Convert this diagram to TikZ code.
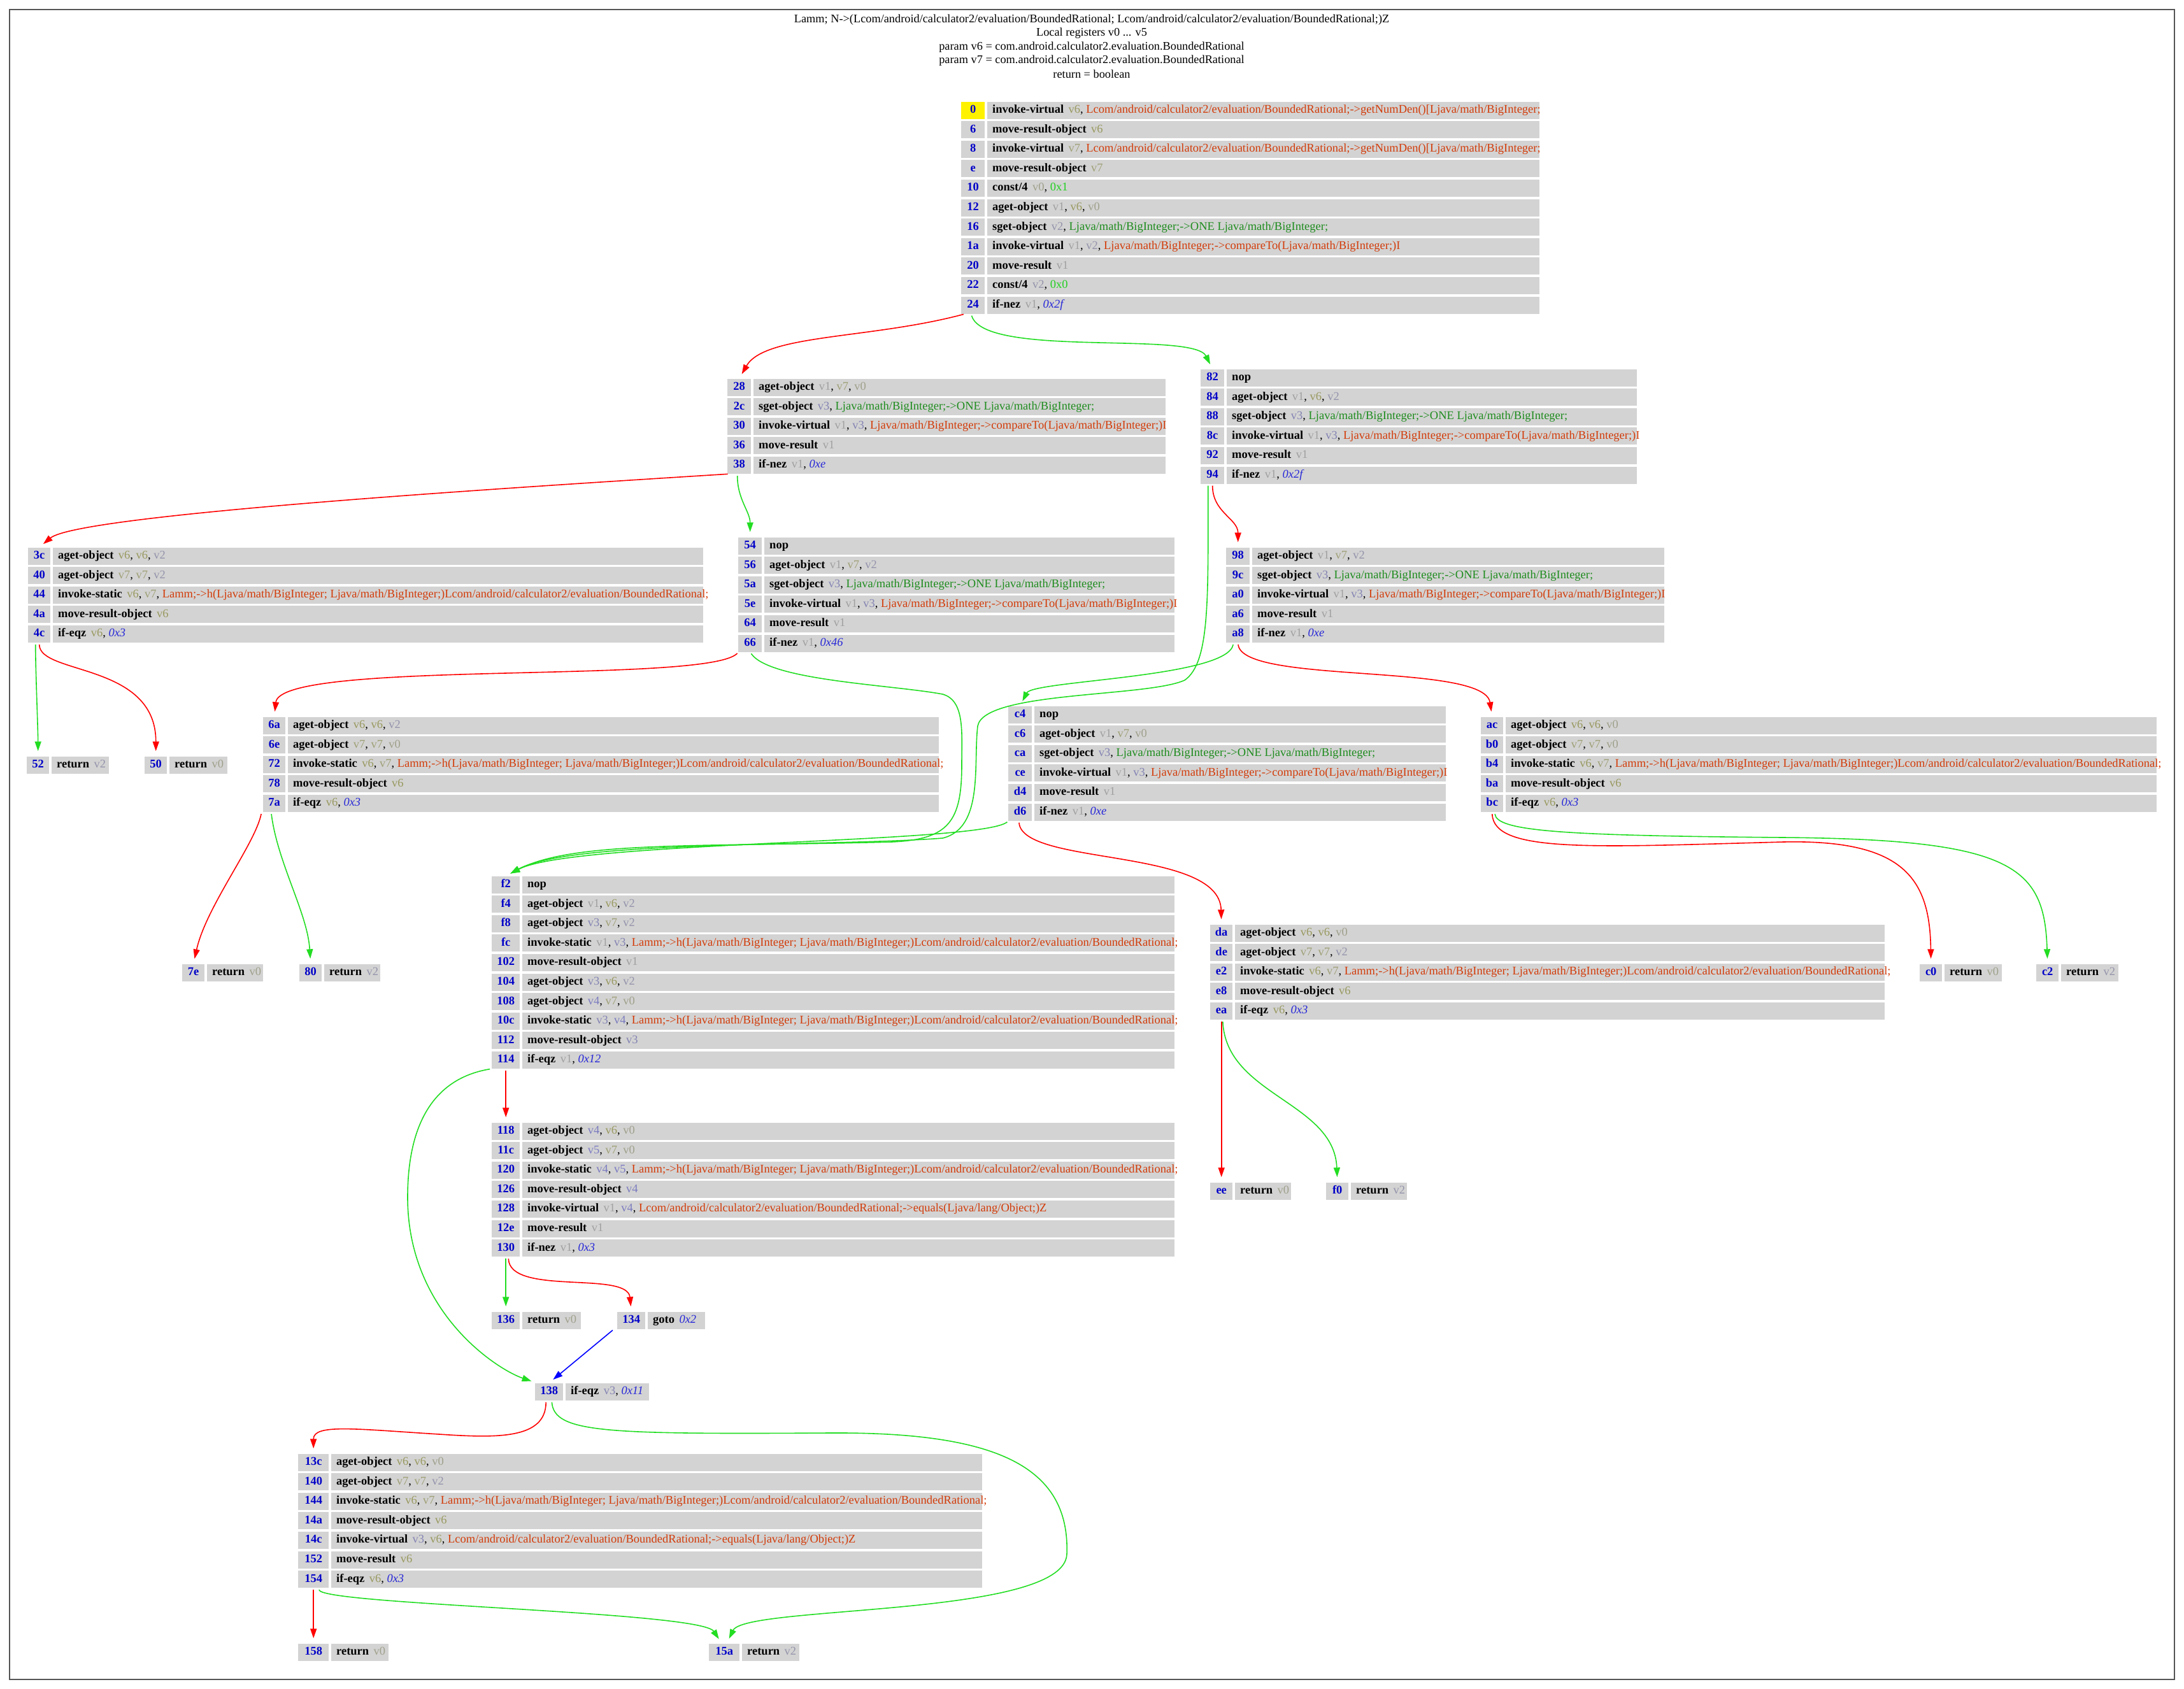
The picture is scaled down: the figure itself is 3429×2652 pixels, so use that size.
\documentclass[tikz,border=0pt]{standalone}
\usepackage{fontspec}
\setmainfont{Liberation Serif}
\usetikzlibrary{arrows.meta}
\definecolor{cellgray}{HTML}{D3D3D3}
\definecolor{addrblue}{HTML}{0000C8}
\definecolor{meth}{HTML}{D23C0A}
\definecolor{fld}{HTML}{1E8C1E}
\definecolor{cst}{HTML}{22D022}
\definecolor{tgt}{HTML}{2828D8}
\definecolor{rv0}{HTML}{A0A08C}
\definecolor{rv1}{HTML}{A0A0A0}
\definecolor{rv2}{HTML}{9494AC}
\definecolor{rv3}{HTML}{8484B4}
\definecolor{rv4}{HTML}{7C7CC0}
\definecolor{rv5}{HTML}{7C7CC4}
\definecolor{rv6}{HTML}{999960}
\definecolor{rv7}{HTML}{A0A078}
\definecolor{egreen}{HTML}{22DD22}
\definecolor{framegray}{HTML}{555555}
\newcommand\fs{\fontsize{18.5}{22}\selectfont}
\newcommand\Op[1]{\textbf{#1}\hspace{0.4em}}
\newcommand\Rg[1]{\textcolor{rv#1}{v#1}}
\newcommand\Me[1]{\textcolor{meth}{#1}}
\newcommand\Fi[1]{\textcolor{fld}{#1}}
\newcommand\Ko[1]{\textcolor{cst}{#1}}
\newcommand\Tg[1]{\textcolor{tgt}{\textit{#1}}}
\newcommand\tLH{Lamm;->h(Ljava/math/BigInteger; Ljava/math/BigInteger;)Lcom/android/calculator2/evaluation/BoundedRational;}
\newcommand\tCT{Ljava/math/BigInteger;->compareTo(Ljava/math/BigInteger;)I}
\newcommand\tONE{Ljava/math/BigInteger;->ONE Ljava/math/BigInteger;}
\newcommand\tEQ{Lcom/android/calculator2/evaluation/BoundedRational;->equals(Ljava/lang/Object;)Z}
\newcommand\tGN{Lcom/android/calculator2/evaluation/BoundedRational;->getNumDen()[Ljava/math/BigInteger;}
\newcommand\acol{cellgray}
\newcommand\rw[8]{%
  \pgfmathsetmacro\ry{#3+#4*30.6}%
  \pgfmathsetmacro\ix{#2+#5+4}%
  \pgfmathsetmacro\iw{#6-#5-4}%
  \pgfmathsetmacro\tw{#6-#5-4-16}%
  \node[addr, fill=\acol, minimum width=#5pt] (n#1) at (#2,\ry) {\strut#7};%
  \node[instr, minimum width=\iw pt] (i#1) at (\ix,\ry) {\makebox[\tw pt][l]{\strut#8}};%
}
\tikzset{
  addr/.style={anchor=west, inner sep=0pt, minimum height=27pt, text=addrblue, font=\fs\bfseries},
  instr/.style={anchor=west, fill=cellgray, inner xsep=8pt, inner ysep=0pt, minimum height=27pt, font=\fs},
  titletext/.style={font=\fontsize{18.3}{22}\selectfont, inner sep=0pt},
  edge/.style={line width=1.6pt, -{Triangle[length=15pt,width=10pt]}, shorten >=8pt, shorten <=3pt},
  ered/.style={edge, red},
  egr/.style={edge, egreen},
  ebl/.style={edge, blue}
}
\begin{document}
\begin{tikzpicture}[x=1pt,y=-1pt]
\useasboundingbox (0,0) rectangle (3429,2652);
\draw[framegray, line width=2.5pt] (15,15) rectangle (3414,2637);
% title
\node[titletext] (t1) at (1714,31) {Lamm; N->(Lcom/android/calculator2/evaluation/BoundedRational; Lcom/android/calculator2/evaluation/BoundedRational;)Z};
\node[titletext] (t2) at (1714,52) {Local registers v0 ... v5};
\node[titletext] (t3) at (1714,74) {param v6 = com.android.calculator2.evaluation.BoundedRational};
\node[titletext] (t4) at (1714,95) {param v7 = com.android.calculator2.evaluation.BoundedRational};
\node[titletext] (t5) at (1714,116) {return = boolean};
% block A
\renewcommand\acol{yellow}
\rw{0}{1509}{173}{0}{37}{908}{0}{\Op{invoke-virtual}\Rg6, \Me{\tGN}}
\renewcommand\acol{cellgray}
\rw{6}{1509}{173}{1}{37}{908}{6}{\Op{move-result-object}\Rg6}
\rw{8}{1509}{173}{2}{37}{908}{8}{\Op{invoke-virtual}\Rg7, \Me{\tGN}}
\rw{e}{1509}{173}{3}{37}{908}{e}{\Op{move-result-object}\Rg7}
\rw{10}{1509}{173}{4}{37}{908}{10}{\Op{const/4}\Rg0, \Ko{0x1}}
\rw{12}{1509}{173}{5}{37}{908}{12}{\Op{aget-object}\Rg1, \Rg6, \Rg0}
\rw{16}{1509}{173}{6}{37}{908}{16}{\Op{sget-object}\Rg2, \Fi{\tONE}}
\rw{1a}{1509}{173}{7}{37}{908}{1a}{\Op{invoke-virtual}\Rg1, \Rg2, \Me{\tCT}}
\rw{20}{1509}{173}{8}{37}{908}{20}{\Op{move-result}\Rg1}
\rw{22}{1509}{173}{9}{37}{908}{22}{\Op{const/4}\Rg2, \Ko{0x0}}
\rw{24}{1509}{173}{10}{37}{908}{24}{\Op{if-nez}\Rg1, \Tg{0x2f}}
% block B
\rw{28}{1142}{608}{0}{37}{688}{28}{\Op{aget-object}\Rg1, \Rg7, \Rg0}
\rw{2c}{1142}{608}{1}{37}{688}{2c}{\Op{sget-object}\Rg3, \Fi{\tONE}}
\rw{30}{1142}{608}{2}{37}{688}{30}{\Op{invoke-virtual}\Rg1, \Rg3, \Me{\tCT}}
\rw{36}{1142}{608}{3}{37}{688}{36}{\Op{move-result}\Rg1}
\rw{38}{1142}{608}{4}{37}{688}{38}{\Op{if-nez}\Rg1, \Tg{0xe}}
% block C
\rw{82}{1885}{593}{0}{37}{685}{82}{\Op{nop}}
\rw{84}{1885}{593}{1}{37}{685}{84}{\Op{aget-object}\Rg1, \Rg6, \Rg2}
\rw{88}{1885}{593}{2}{37}{685}{88}{\Op{sget-object}\Rg3, \Fi{\tONE}}
\rw{8c}{1885}{593}{3}{37}{685}{8c}{\Op{invoke-virtual}\Rg1, \Rg3, \Me{\tCT}}
\rw{92}{1885}{593}{4}{37}{685}{92}{\Op{move-result}\Rg1}
\rw{94}{1885}{593}{5}{37}{685}{94}{\Op{if-nez}\Rg1, \Tg{0x2f}}
% block D
\rw{3c}{44}{873}{0}{35}{1060}{3c}{\Op{aget-object}\Rg6, \Rg6, \Rg2}
\rw{40}{44}{873}{1}{35}{1060}{40}{\Op{aget-object}\Rg7, \Rg7, \Rg2}
\rw{44}{44}{873}{2}{35}{1060}{44}{\Op{invoke-static}\Rg6, \Rg7, \Me{\tLH}}
\rw{4a}{44}{873}{3}{35}{1060}{4a}{\Op{move-result-object}\Rg6}
\rw{4c}{44}{873}{4}{35}{1060}{4c}{\Op{if-eqz}\Rg6, \Tg{0x3}}
% block E
\rw{54}{1159}{857}{0}{37}{685}{54}{\Op{nop}}
\rw{56}{1159}{857}{1}{37}{685}{56}{\Op{aget-object}\Rg1, \Rg7, \Rg2}
\rw{5a}{1159}{857}{2}{37}{685}{5a}{\Op{sget-object}\Rg3, \Fi{\tONE}}
\rw{5e}{1159}{857}{3}{37}{685}{5e}{\Op{invoke-virtual}\Rg1, \Rg3, \Me{\tCT}}
\rw{64}{1159}{857}{4}{37}{685}{64}{\Op{move-result}\Rg1}
\rw{66}{1159}{857}{5}{37}{685}{66}{\Op{if-nez}\Rg1, \Tg{0x46}}
% block F
\rw{98}{1925}{873}{0}{37}{688}{98}{\Op{aget-object}\Rg1, \Rg7, \Rg2}
\rw{9c}{1925}{873}{1}{37}{688}{9c}{\Op{sget-object}\Rg3, \Fi{\tONE}}
\rw{a0}{1925}{873}{2}{37}{688}{a0}{\Op{invoke-virtual}\Rg1, \Rg3, \Me{\tCT}}
\rw{a6}{1925}{873}{3}{37}{688}{a6}{\Op{move-result}\Rg1}
\rw{a8}{1925}{873}{4}{37}{688}{a8}{\Op{if-nez}\Rg1, \Tg{0xe}}
% block G
\rw{6a}{413}{1139}{0}{35}{1061}{6a}{\Op{aget-object}\Rg6, \Rg6, \Rg2}
\rw{6e}{413}{1139}{1}{35}{1061}{6e}{\Op{aget-object}\Rg7, \Rg7, \Rg0}
\rw{72}{413}{1139}{2}{35}{1061}{72}{\Op{invoke-static}\Rg6, \Rg7, \Me{\tLH}}
\rw{78}{413}{1139}{3}{35}{1061}{78}{\Op{move-result-object}\Rg6}
\rw{7a}{413}{1139}{4}{35}{1061}{7a}{\Op{if-eqz}\Rg6, \Tg{0x3}}
% block H
\rw{c4}{1583}{1122}{0}{37}{687}{c4}{\Op{nop}}
\rw{c6}{1583}{1122}{1}{37}{687}{c6}{\Op{aget-object}\Rg1, \Rg7, \Rg0}
\rw{ca}{1583}{1122}{2}{37}{687}{ca}{\Op{sget-object}\Rg3, \Fi{\tONE}}
\rw{ce}{1583}{1122}{3}{37}{687}{ce}{\Op{invoke-virtual}\Rg1, \Rg3, \Me{\tCT}}
\rw{d4}{1583}{1122}{4}{37}{687}{d4}{\Op{move-result}\Rg1}
\rw{d6}{1583}{1122}{5}{37}{687}{d6}{\Op{if-nez}\Rg1, \Tg{0xe}}
% block I
\rw{ac}{2325}{1139}{0}{35}{1061}{ac}{\Op{aget-object}\Rg6, \Rg6, \Rg0}
\rw{b0}{2325}{1139}{1}{35}{1061}{b0}{\Op{aget-object}\Rg7, \Rg7, \Rg0}
\rw{b4}{2325}{1139}{2}{35}{1061}{b4}{\Op{invoke-static}\Rg6, \Rg7, \Me{\tLH}}
\rw{ba}{2325}{1139}{3}{35}{1061}{ba}{\Op{move-result-object}\Rg6}
\rw{bc}{2325}{1139}{4}{35}{1061}{bc}{\Op{if-eqz}\Rg6, \Tg{0x3}}
% block J
\rw{f2}{772}{1389}{0}{44}{1072}{f2}{\Op{nop}}
\rw{f4}{772}{1389}{1}{44}{1072}{f4}{\Op{aget-object}\Rg1, \Rg6, \Rg2}
\rw{f8}{772}{1389}{2}{44}{1072}{f8}{\Op{aget-object}\Rg3, \Rg7, \Rg2}
\rw{fc}{772}{1389}{3}{44}{1072}{fc}{\Op{invoke-static}\Rg1, \Rg3, \Me{\tLH}}
\rw{102}{772}{1389}{4}{44}{1072}{102}{\Op{move-result-object}\Rg1}
\rw{104}{772}{1389}{5}{44}{1072}{104}{\Op{aget-object}\Rg3, \Rg6, \Rg2}
\rw{108}{772}{1389}{6}{44}{1072}{108}{\Op{aget-object}\Rg4, \Rg7, \Rg0}
\rw{10c}{772}{1389}{7}{44}{1072}{10c}{\Op{invoke-static}\Rg3, \Rg4, \Me{\tLH}}
\rw{112}{772}{1389}{8}{44}{1072}{112}{\Op{move-result-object}\Rg3}
\rw{114}{772}{1389}{9}{44}{1072}{114}{\Op{if-eqz}\Rg1, \Tg{0x12}}
% block K
\rw{da}{1900}{1465}{0}{35}{1059}{da}{\Op{aget-object}\Rg6, \Rg6, \Rg0}
\rw{de}{1900}{1465}{1}{35}{1059}{de}{\Op{aget-object}\Rg7, \Rg7, \Rg2}
\rw{e2}{1900}{1465}{2}{35}{1059}{e2}{\Op{invoke-static}\Rg6, \Rg7, \Me{\tLH}}
\rw{e8}{1900}{1465}{3}{35}{1059}{e8}{\Op{move-result-object}\Rg6}
\rw{ea}{1900}{1465}{4}{35}{1059}{ea}{\Op{if-eqz}\Rg6, \Tg{0x3}}
% block L
\rw{118}{772}{1776}{0}{44}{1072}{118}{\Op{aget-object}\Rg4, \Rg6, \Rg0}
\rw{11c}{772}{1776}{1}{44}{1072}{11c}{\Op{aget-object}\Rg5, \Rg7, \Rg0}
\rw{120}{772}{1776}{2}{44}{1072}{120}{\Op{invoke-static}\Rg4, \Rg5, \Me{\tLH}}
\rw{126}{772}{1776}{3}{44}{1072}{126}{\Op{move-result-object}\Rg4}
\rw{128}{772}{1776}{4}{44}{1072}{128}{\Op{invoke-virtual}\Rg1, \Rg4, \Me{\tEQ}}
\rw{12e}{772}{1776}{5}{44}{1072}{12e}{\Op{move-result}\Rg1}
\rw{130}{772}{1776}{6}{44}{1072}{130}{\Op{if-nez}\Rg1, \Tg{0x3}}
% block M
\rw{13c}{468}{2296}{0}{48}{1074}{13c}{\Op{aget-object}\Rg6, \Rg6, \Rg0}
\rw{140}{468}{2296}{1}{48}{1074}{140}{\Op{aget-object}\Rg7, \Rg7, \Rg2}
\rw{144}{468}{2296}{2}{48}{1074}{144}{\Op{invoke-static}\Rg6, \Rg7, \Me{\tLH}}
\rw{14a}{468}{2296}{3}{48}{1074}{14a}{\Op{move-result-object}\Rg6}
\rw{14c}{468}{2296}{4}{48}{1074}{14c}{\Op{invoke-virtual}\Rg3, \Rg6, \Me{\tEQ}}
\rw{152}{468}{2296}{5}{48}{1074}{152}{\Op{move-result}\Rg6}
\rw{154}{468}{2296}{6}{48}{1074}{154}{\Op{if-eqz}\Rg6, \Tg{0x3}}
% small nodes
\rw{52}{42}{1201}{0}{35}{129}{52}{\Op{return}\Rg2}
\rw{50}{227}{1201}{0}{35}{130}{50}{\Op{return}\Rg0}
\rw{7e}{286}{1527}{0}{35}{127}{7e}{\Op{return}\Rg0}
\rw{80}{470}{1527}{0}{35}{127}{80}{\Op{return}\Rg2}
\rw{c0}{3014}{1527}{0}{35}{129}{c0}{\Op{return}\Rg0}
\rw{c2}{3197}{1527}{0}{35}{129}{c2}{\Op{return}\Rg2}
\rw{ee}{1900}{1870}{0}{35}{127}{ee}{\Op{return}\Rg0}
\rw{f0}{2082}{1870}{0}{35}{127}{f0}{\Op{return}\Rg2}
\rw{136}{772}{2073}{0}{44}{140}{136}{\Op{return}\Rg0}
\rw{134}{969}{2073}{0}{44}{138}{134}{\Op{goto}\Tg{0x2}}
\rw{138}{840}{2185}{0}{44}{179}{138}{\Op{if-eqz}\Rg3, \Tg{0x11}}
\rw{158}{468}{2594}{0}{48}{142}{158}{\Op{return}\Rg0}
\rw{15a}{1113}{2594}{0}{48}{142}{15a}{\Op{return}\Rg2}
% edges
\draw[ered] ([xshift=-12pt]n24.south) .. controls +(-150,40) and +(40,-70) .. (n28.north);
\draw[egr] ([xshift=-3pt]n24.south) .. controls +(20,70) and +(-30,-60) .. (n82.north);
\draw[ered] ([xshift=-15pt]n38.south) .. controls +(-400,25) and +(60,-50) .. (n3c.north);
\draw[egr] ([xshift=-3pt]n38.south) .. controls +(0,40) and +(0,-40) .. (n54.north);
\draw[ered] (n94.south) .. controls +(0,45) and +(0,-45) .. (n98.north);
\draw[egr] ([xshift=-7pt]n94.south) .. controls +(0,180) and (1900,1040) .. (1860,1068) .. controls (1800,1095) and (1545,1085) .. (1535,1140) .. controls (1528,1200) and (1545,1300) .. (1480,1316) .. controls (1300,1330) and (900,1318) .. (nf2.north);
\draw[ered] ([xshift=-18pt]n66.south) .. controls (1110,1075) and (440,1035) .. (n6a.north);
\draw[egr] (n66.south) .. controls +(30,45) and (1400,1075) .. (1480,1090) .. controls (1515,1100) and (1510,1150) .. (1510,1200) .. controls (1510,1290) and (1490,1318) .. (1400,1322) .. controls (1100,1330) and (900,1320) .. (nf2.north);
\draw[egr] ([xshift=-7pt]na8.south) .. controls +(-10,55) and +(20,-40) .. (nc4.north);
\draw[ered] (na8.south) .. controls (1950,1075) and (2330,1040) .. (nac.north);
\draw[egr] ([xshift=-6pt]n4c.south) .. controls +(0,40) and +(0,-40) .. (n52.north);
\draw[ered] (n4c.south) .. controls (62,1060) and (245,1040) .. (n50.north);
\draw[ered] ([xshift=-20pt]n7a.south) .. controls +(-10,50) and +(20,-90) .. (n7e.north);
\draw[egr] ([xshift=-5pt]n7a.south) .. controls +(10,80) and +(-5,-80) .. (n80.north);
\draw[egr] ([xshift=-18pt]nd6.south) .. controls (1540,1325) and (900,1320) .. (nf2.north);
\draw[ered] ([xshift=-2pt]nd6.south) .. controls (1605,1360) and (1915,1330) .. (nda.north);
\draw[ered] (nbc.south) .. controls (2345,1340) and (2500,1330) .. (2800,1322) .. controls (2990,1318) and (3030,1380) .. (nc0.north);
\draw[egr] ([xshift=4pt]nbc.south) .. controls (2350,1305) and (2450,1312) .. (2800,1315) .. controls (3160,1318) and (3210,1360) .. (nc2.north);
\draw[ered] (n114.south) -- (n118.north);
\draw[egr] ([xshift=-22pt]n114.south) .. controls (700,1690) and (640,1740) .. (640,1880) .. controls (640,2060) and (780,2150) .. ([xshift=-20pt]n138.north);
\draw[ered] (nea.south) -- (nee.north);
\draw[egr] ([xshift=2pt]nea.south) .. controls (1925,1720) and (2095,1730) .. (nf0.north);
\draw[egr] (n130.south) -- (n136.north);
\draw[ered] ([xshift=4pt]n130.south) .. controls (800,2035) and (985,1995) .. (n134.north);
\draw[ebl] ([xshift=-27pt]n134.south) -- (n138.north);
\draw[ered] ([xshift=-5pt]n138.south) .. controls (857,2260) and (780,2258) .. (690,2252) .. controls (560,2244) and (492,2235) .. (n13c.north);
\draw[egr] ([xshift=4pt]n138.south) .. controls (870,2250) and (950,2252) .. (1300,2250) .. controls (1560,2248) and (1680,2300) .. (1675,2440) .. controls (1672,2540) and (1170,2520) .. ([xshift=4pt]n15a.north);
\draw[ered] (n154.south) -- (n158.north);
\draw[egr] ([xshift=8pt]n154.south) .. controls (505,2520) and (1100,2530) .. ([xshift=-4pt]n15a.north);
\end{tikzpicture}
\end{document}
